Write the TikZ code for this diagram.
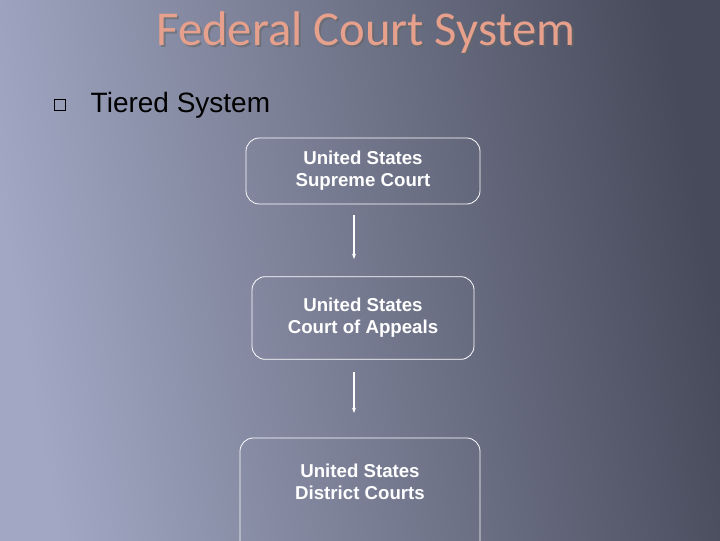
\documentclass[tikz,border=0pt]{standalone}
\usepackage{fontspec}
\setmainfont{Liberation Sans}
\newfontfamily\titlefont{Carlito}
\usetikzlibrary{arrows.meta}
\definecolor{bgL}{HTML}{A2A8C4}
\definecolor{bgR}{HTML}{474A5A}
\definecolor{ttl}{HTML}{E6A08C}
\tikzset{
  box/.style={draw=white, rounded corners=10pt, line width=0.6pt, align=center, text=white, font=\fontsize{14}{16.5}\selectfont\bfseries, inner sep=0pt},
  conn/.style={draw=white, line width=0.8pt, -{Stealth[length=4pt,width=3pt]}}
}
\begin{document}
\begin{tikzpicture}[x=0.75pt,y=-0.75pt]
\useasboundingbox (0,0) rectangle (720,540);
\shade[left color=bgL, right color=bgR, shading angle=100] (0,0) rectangle (720,540);
\node[text=black!60, opacity=0.6, font=\titlefont\fontsize{36.5}{40}\selectfont] at (368,35) {Federal Court System};
\node[text=ttl, font=\titlefont\fontsize{36.5}{40}\selectfont] (title) at (366,33) {Federal Court System};
\node[draw=black, line width=0.5pt, minimum size=8pt, inner sep=0pt] (bul) at (60,105) {};
\node[anchor=west, text=black, font=\fontsize{21}{25}\selectfont] (tier) at (86,105) {Tiered System};
\node[box, minimum width=175.5pt, minimum height=49.5pt] (b1) at (363,171) {United States\\Supreme Court};
\node[box, minimum width=166.5pt, minimum height=62pt] (b2) at (363,318) {United States\\Court of Appeals};
\draw[white, line width=0.6pt, rounded corners=10pt] (240,545) -- (240,438) -- (480,438) -- (480,545);
\node[text=white, align=center, font=\fontsize{14}{16.5}\selectfont\bfseries] (b3) at (360,482) {United States\\District Courts};
\coordinate (a1s) at (354,215); \coordinate (a1e) at (354,259);
\coordinate (a2s) at (354,372); \coordinate (a2e) at (354,413);
\draw[conn] (a1s) -- (a1e);
\draw[conn] (a2s) -- (a2e);
\end{tikzpicture}
\end{document}
